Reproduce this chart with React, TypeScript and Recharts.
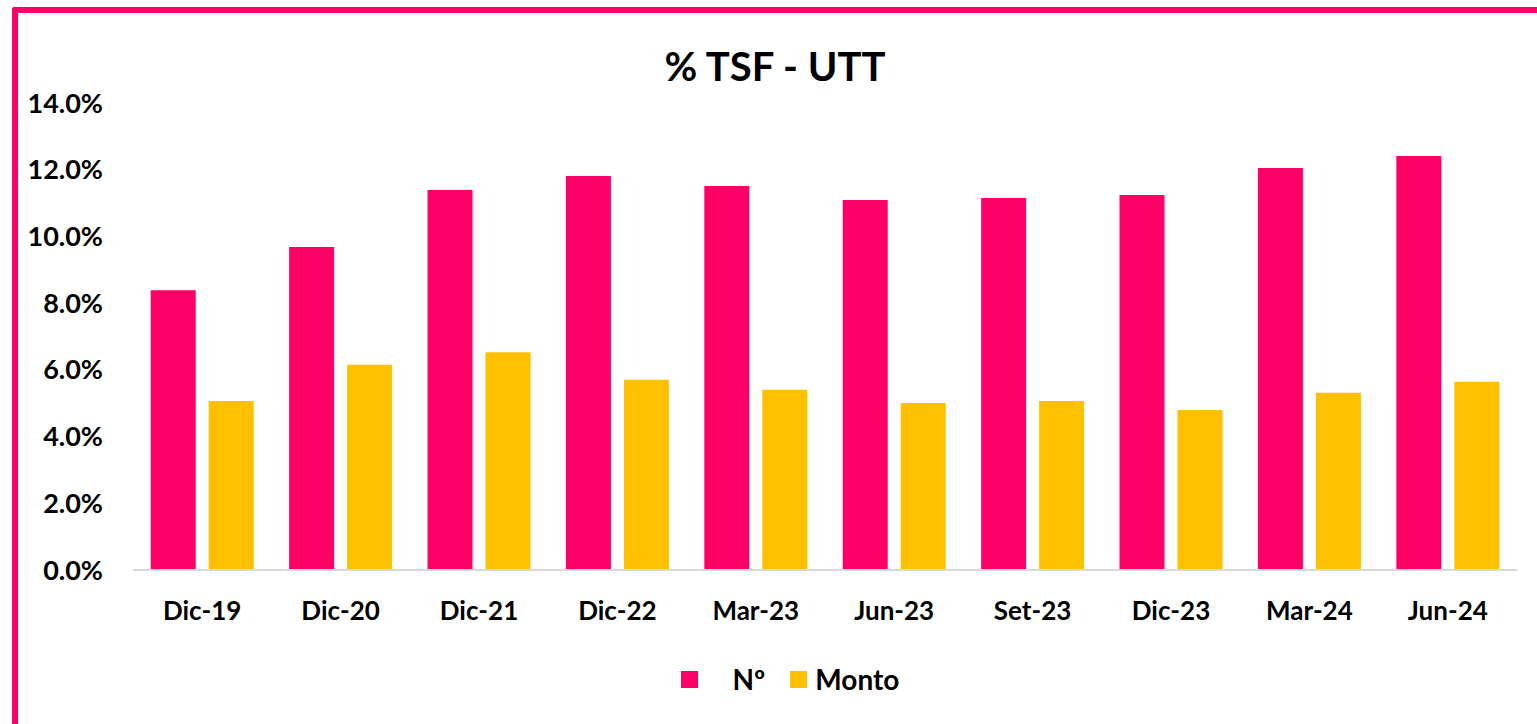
import React from "react";
import { BarChart, Bar, XAxis, YAxis, Legend } from "recharts";

// periodos y porcentajes (fracción)
const periods = ["Dic-19", "Dic-20", "Dic-21", "Dic-22", "Mar-23", "Jun-23", "Set-23", "Dic-23", "Mar-24", "Jun-24"];
const numero = [0.0839, 0.0968, 0.1139, 0.1181, 0.1151, 0.1109, 0.1115, 0.1124, 0.1205, 0.1241];
const monto = [0.0507, 0.0615, 0.0653, 0.057, 0.054, 0.0501, 0.0507, 0.048, 0.0531, 0.0564];
const yTicks = [0, 0.02, 0.04, 0.06, 0.08, 0.1, 0.12, 0.14];

const PINK = "#FF0066";
const GOLD = "#FFC000";
const FONT = "Lato, 'Open Sans', sans-serif";

const data = periods.map((p, i) => ({ period: p, n: numero[i], monto: monto[i] }));

const pct = (v: number) => `${(v * 100).toFixed(1)}%`;

const renderLegend = () => (
  <div style={{ display: "flex", justifyContent: "center", alignItems: "center", fontFamily: FONT, fontWeight: 700, fontSize: 28, color: "#000" }}>
    <span style={{ width: 17, height: 17, background: PINK, display: "inline-block" }} />
    <span style={{ marginLeft: 35, marginRight: 25 }}>Nº</span>
    <span style={{ width: 17, height: 17, background: GOLD, display: "inline-block" }} />
    <span style={{ marginLeft: 8 }}>Monto</span>
  </div>
);

export default function App() {
  return (
    <div style={{ position: "fixed", left: 0, top: 0, width: 1537, height: 724, background: "#fff", overflow: "hidden" }}>
      <div
        style={{
          position: "absolute",
          left: 12,
          top: 7,
          width: 1600,
          height: 800,
          borderLeft: `6px solid ${PINK}`,
          borderTop: `6px solid ${PINK}`,
          borderTopLeftRadius: 3,
        }}
      />
      <div
        style={{
          position: "absolute",
          left: 0,
          width: 1550,
          top: 42,
          textAlign: "center",
          fontFamily: FONT,
          fontWeight: 700,
          fontSize: 40,
          color: "#000",
        }}
      >
        % TSF - UTT
      </div>
      <div style={{ position: "absolute", left: 0, top: 0 }}>
        <BarChart
          width={1537}
          height={724}
          data={data}
          margin={{ top: 103, right: 20, bottom: 60, left: 0 }}
          barCategoryGap="12.8%"
          barGap={13}
        >
          <XAxis
            dataKey="period"
            axisLine={{ stroke: "#D9D9D9", strokeWidth: 2 }}
            tickLine={false}
            tickMargin={26}
            height={60}
            tick={{ fontFamily: FONT, fontWeight: 700, fontSize: 26, fill: "#000" }}
          />
          <YAxis
            width={133}
            domain={[0, 0.14]}
            ticks={yTicks}
            tickFormatter={pct}
            axisLine={false}
            tickLine={false}
            tickSize={0}
            tickMargin={30}
            tick={{ fontFamily: FONT, fontWeight: 700, fontSize: 27, fill: "#000" }}
          />
          <Legend
            content={renderLegend}
            wrapperStyle={{ top: 662, left: 0, width: 1580 }}
          />
          <Bar dataKey="n" name="Nº" fill={PINK} isAnimationActive={false} />
          <Bar dataKey="monto" name="Monto" fill={GOLD} isAnimationActive={false} />
        </BarChart>
      </div>
    </div>
  );
}
